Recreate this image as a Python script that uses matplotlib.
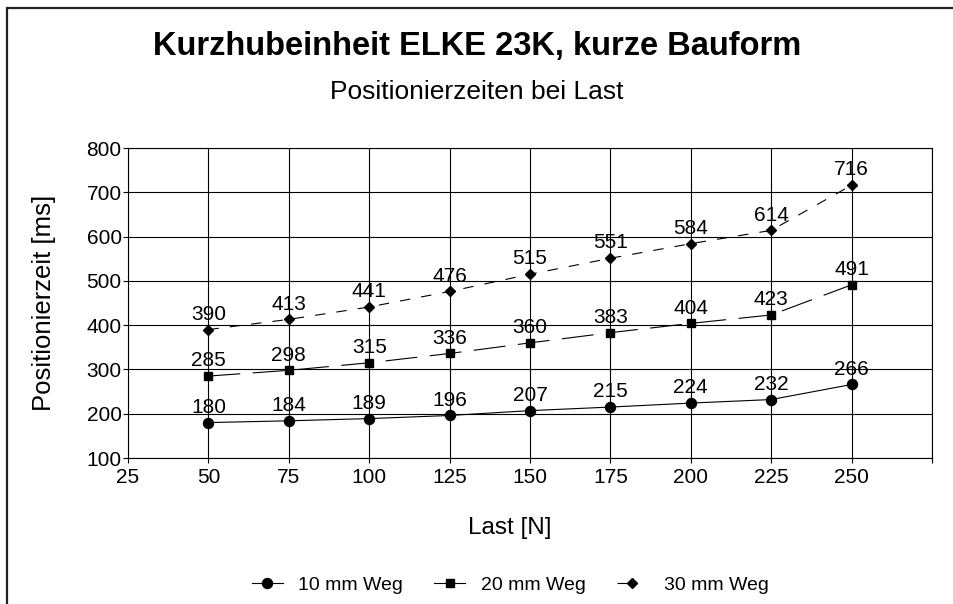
import numpy as np
import matplotlib
matplotlib.use("Agg")
import matplotlib.pyplot as plt
from matplotlib.lines import Line2D
from matplotlib.patches import Rectangle

plt.rcParams['font.family'] = ['Liberation Sans', 'DejaVu Sans']
plt.rcParams['lines.scale_dashes'] = False

# data
last = [50, 75, 100, 125, 150, 175, 200, 225, 250]
weg10 = [180, 184, 189, 196, 207, 215, 224, 232, 266]
weg20 = [285, 298, 315, 336, 360, 383, 404, 423, 491]
weg30 = [390, 413, 441, 476, 515, 551, 584, 614, 716]
series_names = ['10 mm Weg', '20 mm Weg', '30 mm Weg']
xticks = [25, 50, 75, 100, 125, 150, 175, 200, 225, 250, 275]
xticklabels = ['25', '50', '75', '100', '125', '150', '175', '200', '225', '250', '']
yticks = [100, 200, 300, 400, 500, 600, 700, 800]

W, H = 954, 604
fig = plt.figure(figsize=(W / 100, H / 100), dpi=100)
fig.patch.set_facecolor('white')

# outer frame (cut off at right and bottom)
fig.patches.append(Rectangle((7 / W, -0.2), 1.3, 1 - 8 / H + 0.2, transform=fig.transFigure,
                             fill=False, lw=1.6, ec='#222222', clip_on=False))

ax = fig.add_axes([128 / W, 1 - 458 / H, (932 - 128) / W, (458 - 148) / H])

styles = [
    dict(marker='o', ms=7.2, ls='-'),
    dict(marker='s', ms=5.8, dashes=(23, 9)),
    dict(marker='D', ms=5.6, dashes=(7.5, 8)),
]
for ys, st in zip([weg10, weg20, weg30], styles):
    ax.plot(last, ys, color='black', lw=0.8, mfc='black', mec='black', zorder=3, **st)
    for x, y in zip(last, ys):
        ax.annotate(str(y), (x, y), xytext=(0, 11), textcoords='offset points',
                    ha='center', va='center', fontsize=15, zorder=4)

ax.set_xlim(25, 275)
ax.set_ylim(100, 800)
ax.set_xticks(xticks)
ax.set_xticklabels(xticklabels)
ax.set_yticks(yticks)
ax.grid(True, color='black', lw=0.8)
ax.set_axisbelow(True)
for s in ax.spines.values():
    s.set_color('black')
    s.set_linewidth(0.8)
ax.tick_params(axis='both', direction='out', length=3.5, width=0.8, labelsize=15, colors='black')
ax.tick_params(axis='y', pad=1)
ax.tick_params(axis='x', pad=4)

fig.text(0.5, 1 - 46 / H, 'Kurzhubeinheit ELKE 23K, kurze Bauform', ha='center', va='center',
         fontsize=23.5, fontweight='bold')
fig.text(0.5, 1 - 92 / H, 'Positionierzeiten bei Last', ha='center', va='center', fontsize=19)
fig.text(44 / W, 1 - 303 / H, 'Positionierzeit [ms]', rotation=90, ha='center', va='center', fontsize=18.5)
fig.text(510 / W, 1 - 528 / H, 'Last [N]', ha='center', va='center', fontsize=17.5)

handles = [
    Line2D([], [], color='black', lw=0.8, marker='o', ms=7.2),
    Line2D([], [], color='black', lw=0.8, marker='s', ms=5.8),
    Line2D([], [], color='black', lw=0.8, marker='D', ms=5.6, dashes=(11, 30)),
]
fig.legend(handles, series_names, loc='center', bbox_to_anchor=(510 / W, 1 - 585 / H), ncol=3,
           frameon=False, fontsize=14, handlelength=1.6, handletextpad=0.8, columnspacing=1.6)

fig.savefig('out.png', dpi=100)
